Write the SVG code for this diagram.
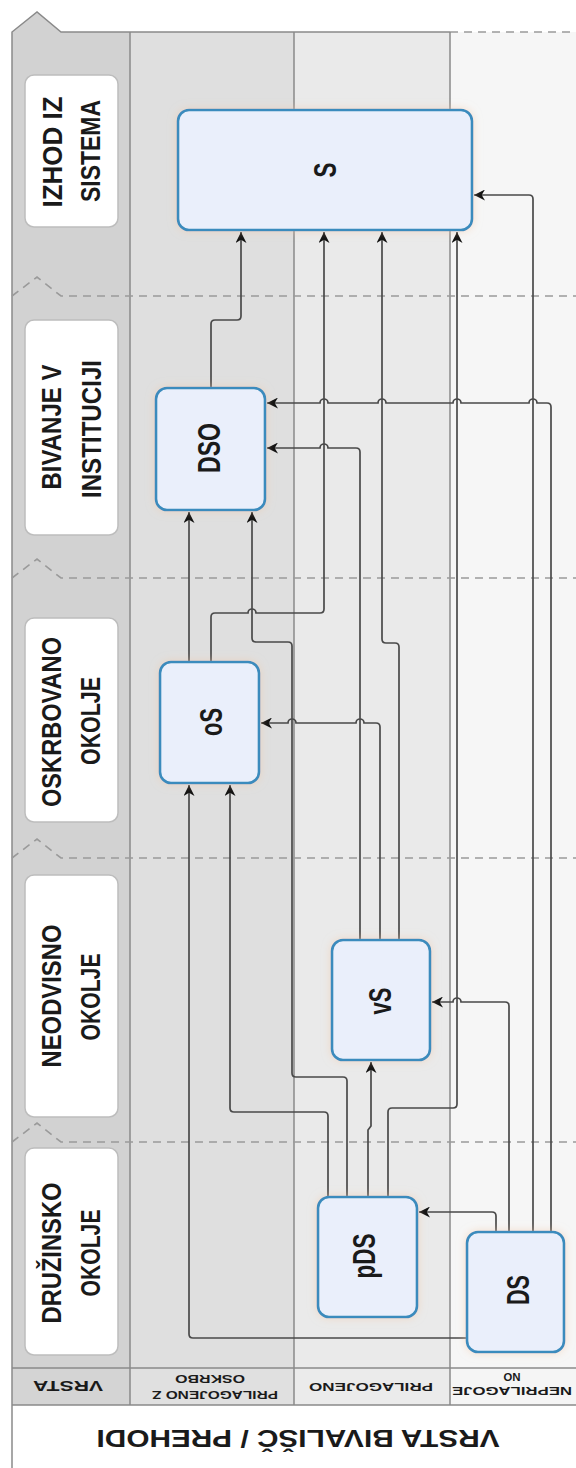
<svg xmlns="http://www.w3.org/2000/svg" width="576" height="1468" viewBox="0 0 576 1468">
<style>
.lbl{font-family:"Liberation Sans",Arial,sans-serif;font-weight:bold;fill:#1a1a1a;text-anchor:middle}
.stage{font-size:28px}
.nt{font-size:31px}
.lh{font-size:10px}
.box{fill:#ffffff;stroke:#bdbdbd;stroke-width:1.5}
.node{fill:#eaeffb;stroke:#3a8bbd;stroke-width:2.6}
.sep{stroke:#9a9a9a;stroke-width:1.6;stroke-dasharray:8 6;fill:none}
.lane{stroke:#8a8a8a;stroke-width:1.5}
.edge{fill:none;stroke:#4a4a4a;stroke-width:1.7;marker-end:url(#arr)}
</style>
<defs>
<marker id="arr" viewBox="0 0 10 10" refX="10" refY="5" markerWidth="11" markerHeight="11" markerUnits="userSpaceOnUse" orient="auto">
<path d="M0,0 L10,5 L0,10 L3,5 z" fill="#111111"/>
</marker>
<filter id="glow" x="-20%" y="-20%" width="140%" height="140%">
<feDropShadow dx="0" dy="0" stdDeviation="4" flood-color="#f1c8a6" flood-opacity="0.55"/>
</filter>
</defs>
<rect x="0" y="0" width="576" height="1468" fill="#ffffff"/>
<g id="pool">
<polygon points="12,32 37,12 61,32 130,32 130,1368 12,1368" fill="#d2d2d2"/>
<rect x="130" y="32" width="164" height="1336" fill="#dfdfdf"/>
<rect x="294" y="32" width="156" height="1336" fill="#eaeaea"/>
<rect x="450" y="32" width="126" height="1336" fill="#f6f6f6"/>
<rect x="12" y="1368" width="118" height="37" fill="#d4d4d4"/>
<rect x="130" y="1368" width="164" height="37" fill="#e0e0e0"/>
<rect x="294" y="1368" width="156" height="37" fill="#ebebeb"/>
<rect x="450" y="1368" width="126" height="37" fill="#f5f5f5"/>
<polyline points="12,1468 12,32 37,12 61,32 450,32" fill="none" stroke="#8a8a8a" stroke-width="1.5"/>
<line x1="450" y1="32" x2="576" y2="32" class="sep"/>
<line x1="130" y1="32" x2="130" y2="1405" class="lane"/>
<line x1="294" y1="32" x2="294" y2="1405" class="lane"/>
<line x1="450" y1="32" x2="450" y2="1405" class="lane"/>
<line x1="12" y1="1368" x2="576" y2="1368" class="lane"/>
<line x1="12" y1="1405" x2="576" y2="1405" class="lane"/>
<polyline points="12,296 37,277 61,296 576,296" class="sep"/>
<polyline points="12,578 37,559 61,578 576,578" class="sep"/>
<polyline points="12,858 37,839 61,858 576,858" class="sep"/>
<polyline points="12,1142 37,1123 61,1142 576,1142" class="sep"/>
<text class="lbl" font-size="23px" textLength="403" lengthAdjust="spacingAndGlyphs" transform="translate(298,1430) rotate(180)">VRSTA BIVALIŠČ / PREHODI</text>
</g>
<g id="lane-headers">
<text class="lbl" font-size="15px" textLength="70" lengthAdjust="spacingAndGlyphs" transform="translate(68,1381) rotate(180)">VRSTA</text>
<text class="lbl lh" textLength="70" lengthAdjust="spacingAndGlyphs" transform="translate(210,1375) rotate(180)">OSKRBO</text>
<text class="lbl lh" textLength="126" lengthAdjust="spacingAndGlyphs" transform="translate(215,1391) rotate(180)">PRILAGOJENO Z</text>
<text class="lbl lh" textLength="124" lengthAdjust="spacingAndGlyphs" transform="translate(371,1383) rotate(180)">PRILAGOJENO</text>
<text class="lbl lh" textLength="17" lengthAdjust="spacingAndGlyphs" transform="translate(512,1373) rotate(180)">NO</text>
<text class="lbl lh" textLength="120" lengthAdjust="spacingAndGlyphs" transform="translate(512,1387) rotate(180)">NEPRILAGOJE</text>
</g>
<g id="stage-izhod">
<rect class="box" x="25" y="75" width="93" height="152" rx="9"/>
<text class="lbl stage" textLength="111" lengthAdjust="spacingAndGlyphs" transform="translate(62,152) rotate(-90)">IZHOD IZ</text>
<text class="lbl stage" textLength="102" lengthAdjust="spacingAndGlyphs" transform="translate(100,151) rotate(-90)">SISTEMA</text>
</g>
<g id="stage-bivanje">
<rect class="box" x="25" y="320" width="93" height="215" rx="9"/>
<text class="lbl stage" textLength="125" lengthAdjust="spacingAndGlyphs" transform="translate(61,427) rotate(-90)">BIVANJE V</text>
<text class="lbl stage" textLength="138" lengthAdjust="spacingAndGlyphs" transform="translate(101,429) rotate(-90)">INSTITUCIJI</text>
</g>
<g id="stage-oskrbovano">
<rect class="box" x="25" y="618" width="93" height="204" rx="9"/>
<text class="lbl stage" textLength="170" lengthAdjust="spacingAndGlyphs" transform="translate(61,722) rotate(-90)">OSKRBOVANO</text>
<text class="lbl stage" textLength="88" lengthAdjust="spacingAndGlyphs" transform="translate(100,721) rotate(-90)">OKOLJE</text>
</g>
<g id="stage-neodvisno">
<rect class="box" x="25" y="875" width="93" height="242" rx="9"/>
<text class="lbl stage" textLength="143" lengthAdjust="spacingAndGlyphs" transform="translate(61,996) rotate(-90)">NEODVISNO</text>
<text class="lbl stage" textLength="87" lengthAdjust="spacingAndGlyphs" transform="translate(100,997) rotate(-90)">OKOLJE</text>
</g>
<g id="stage-druzinsko">
<rect class="box" x="25" y="1148" width="93" height="207" rx="9"/>
<text class="lbl stage" textLength="141" lengthAdjust="spacingAndGlyphs" transform="translate(61,1253) rotate(-90)">DRUŽINSKO</text>
<text class="lbl stage" textLength="87" lengthAdjust="spacingAndGlyphs" transform="translate(100,1253) rotate(-90)">OKOLJE</text>
</g>
<g id="connectors">
<path class="edge" d="M211,388 V324 Q211,320 215,320 H237 Q241,320 241,316 V232"/>
<path class="edge" d="M211,662 V617 Q211,613 215,613 H248 a4,4 0 0 1 8,0 H320 Q324,613 324,609 V232"/>
<path class="edge" d="M399,940 V647 Q399,643 395,643 H386 Q382,643 382,639 V232"/>
<path class="edge" d="M388,1197 V1112 Q388,1108 392,1108 H453 Q457,1108 457,1104 V232"/>
<path class="edge" d="M533,1232 V199 Q533,195 529,195 H474"/>
<path class="edge" d="M189,662 V512"/>
<path class="edge" d="M347,1197 V1081 Q347,1077 343,1077 H296 Q292,1077 292,1073 V646 Q292,642 288,642 H256 Q252,642 252,638 V512"/>
<path class="edge" d="M360,940 V452 Q360,448 356,448 H328 a4,4 0 0 0 -8,0 H267"/>
<path class="edge" d="M551,1232 V407 Q551,403 547,403 H537 a4,4 0 0 0 -8,0 H461 a4,4 0 0 0 -8,0 H386 a4,4 0 0 0 -8,0 H328 a4,4 0 0 0 -8,0 H267"/>
<path class="edge" d="M467,1338 H193 Q189,1338 189,1334 V785"/>
<path class="edge" d="M328,1197 V1116 Q328,1112 324,1112 H234 Q230,1112 230,1108 V785"/>
<path class="edge" d="M380,940 V727 Q380,723 376,723 H364 a4,4 0 0 0 -8,0 H296 a4,4 0 0 0 -8,0 H261"/>
<path class="edge" d="M368,1197 V1130 L371,1126 V1062"/>
<path class="edge" d="M509,1232 V1006 Q509,1002 505,1002 H461 a4,4 0 0 0 -8,0 H432"/>
<path class="edge" d="M496,1232 V1216 Q496,1212 492,1212 H419"/>
</g>
<g id="node-S">
<rect class="node" filter="url(#glow)" x="178" y="110" width="294" height="120" rx="11"/>
<text class="lbl nt" textLength="15" lengthAdjust="spacingAndGlyphs" transform="translate(336,170) rotate(-90)">S</text>
</g>
<g id="node-DSO">
<rect class="node" filter="url(#glow)" x="156" y="388" width="109" height="122" rx="11"/>
<text class="lbl nt" textLength="50" lengthAdjust="spacingAndGlyphs" transform="translate(220,448) rotate(-90)">DSO</text>
</g>
<g id="node-oS">
<rect class="node" filter="url(#glow)" x="160" y="662" width="99" height="121" rx="11"/>
<text class="lbl nt" textLength="28" lengthAdjust="spacingAndGlyphs" transform="translate(222,722) rotate(-90)">oS</text>
</g>
<g id="node-vS">
<rect class="node" filter="url(#glow)" x="332" y="940" width="98" height="120" rx="11"/>
<text class="lbl nt" textLength="27" lengthAdjust="spacingAndGlyphs" transform="translate(391,1001) rotate(-90)">vS</text>
</g>
<g id="node-pDS">
<rect class="node" filter="url(#glow)" x="318" y="1197" width="99" height="120" rx="11"/>
<text class="lbl nt" textLength="45" lengthAdjust="spacingAndGlyphs" transform="translate(375,1256) rotate(-90)">pDS</text>
</g>
<g id="node-DS">
<rect class="node" filter="url(#glow)" x="467" y="1232" width="97" height="120" rx="11"/>
<text class="lbl nt" textLength="30" lengthAdjust="spacingAndGlyphs" transform="translate(529,1290) rotate(-90)">DS</text>
</g>
</svg>
